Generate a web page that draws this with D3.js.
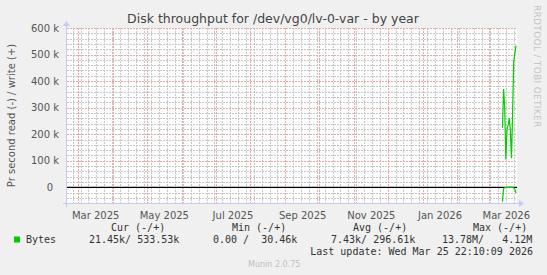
<!DOCTYPE html>
<html>
<head>
<meta charset="utf-8">
<script src="https://cdn.jsdelivr.net/npm/d3@7"></script>
<style>
  body { margin: 0; background: #f0f0f0; }
  text { font-family: "DejaVu Sans", sans-serif; }
  .mono { font-family: "DejaVu Sans Mono", monospace; font-size: 10px; fill: #333; white-space: pre; }
</style>
</head>
<body>
<div id="chart"></div>
<script>
// daily averages, bytes per second
var days = ["2026-03-13", "2026-03-14", "2026-03-15", "2026-03-16", "2026-03-17",
            "2026-03-18", "2026-03-19", "2026-03-20", "2026-03-21", "2026-03-22",
            "2026-03-23", "2026-03-24", "2026-03-25"];
var writeVals = [224000, 370000, 300000, 105000, 216000, 234000, 260000,
                 216000, 110000, 280000, 473000, 504000, 533530];
var readVals = [-54000, -5000, -800, -300, -300, -300, -300,
                -300, -300, -400, -2000, -7000, -21450];

var yTicks = [0, 100000, 200000, 300000, 400000, 500000, 600000];
var xLabelMonths = ["2025-03-01", "2025-05-01", "2025-07-01", "2025-09-01",
                    "2025-11-01", "2026-01-01", "2026-03-01"];

var legendHead = ["Cur (-/+)", "Min (-/+)", "Avg (-/+)", "Max (-/+)"];
var legendVals = ["21.45k/ 533.53k", "0.00 /  30.46k", "7.43k/ 296.61k", "13.78M/   4.12M"];
var lastUpdate = "Last update: Wed Mar 25 22:10:09 2026";

function init(){
    var W = 547, H = 275;
    var left = 67, right = 517, top = 28, bottom = 203;

    var parse = d3.timeParse("%Y-%m-%d");
    var end = new Date(2026, 2, 25, 22, 10, 9);
    var start = d3.timeDay.offset(end, -400);

    var xScale = d3.scaleTime()
                    .domain([start, end])
                    .range([left, right]);
    var yScale = d3.scaleLinear()
                    .domain([-59000, 600000])
                    .range([bottom, top]);

    var svg = d3.select("#chart")
                .append("svg")
                .attr("width", W)
                .attr("height", H);

    svg.append("rect").attr("width", W).attr("height", H).attr("fill", "#f0f0f0");
    svg.append("rect")
        .attr("x", left).attr("y", top)
        .attr("width", right - left).attr("height", bottom - top)
        .attr("fill", "#fcfcfc");

    var minorCol = "#c8c8c8", majorCol = "#e8a8a8";

    // minor grid
    var minorY = d3.range(-40000, 600001, 20000);
    svg.selectAll("line.hmin")
        .data(minorY)
        .enter().append("line")
        .attr("x1", left).attr("x2", right)
        .attr("y1", function(d){ return Math.round(yScale(d)) + 0.5; })
        .attr("y2", function(d){ return Math.round(yScale(d)) + 0.5; })
        .attr("stroke", minorCol).attr("stroke-dasharray", "2,1");

    svg.selectAll("line.vmin")
        .data(d3.timeMonday.range(start, end))
        .enter().append("line")
        .attr("y1", top).attr("y2", bottom)
        .attr("x1", function(d){ return Math.round(xScale(d)) + 0.5; })
        .attr("x2", function(d){ return Math.round(xScale(d)) + 0.5; })
        .attr("stroke", minorCol).attr("stroke-dasharray", "2,1");

    // major grid
    svg.selectAll("line.hmaj")
        .data(yTicks)
        .enter().append("line")
        .attr("x1", left).attr("x2", right)
        .attr("y1", function(d){ return Math.round(yScale(d)) + 0.5; })
        .attr("y2", function(d){ return Math.round(yScale(d)) + 0.5; })
        .attr("stroke", majorCol).attr("stroke-dasharray", "2,1");

    svg.selectAll("line.vmaj")
        .data(d3.timeMonth.range(start, end))
        .enter().append("line")
        .attr("y1", top).attr("y2", bottom)
        .attr("x1", function(d){ return Math.round(xScale(d)) + 0.5; })
        .attr("x2", function(d){ return Math.round(xScale(d)) + 0.5; })
        .attr("stroke", majorCol).attr("stroke-dasharray", "2,1");

    // axes
    var xAxis = d3.axisBottom(xScale)
                    .tickValues(xLabelMonths.map(function(s){ return d3.timeDay.offset(parse(s), 15); }))
                    .tickFormat(function(d){ return d3.timeFormat("%b %Y")(d3.timeDay.offset(d, -15)); })
                    .tickSize(0).tickPadding(9);
    var gx = svg.append("g").attr("transform", "translate(0," + bottom + ")").call(xAxis);
    gx.select(".domain").remove();
    gx.selectAll("text").attr("font-size", 10).attr("fill", "#555")
        .attr("font-family", "DejaVu Sans, sans-serif");

    var yAxis = d3.axisLeft(yScale)
                    .tickValues(yTicks)
                    .tickFormat(function(d){ return d === 0 ? "0" : (d / 1000) + " k"; })
                    .tickSize(0).tickPadding(8);
    var gy = svg.append("g").attr("transform", "translate(" + left + ",0)").call(yAxis);
    gy.select(".domain").remove();
    gy.selectAll("text").attr("font-size", 10).attr("fill", "#555")
        .attr("font-family", "DejaVu Sans, sans-serif")
        .attr("dx", function(d){ return d === 0 ? -6 : 0; });

    // axis lines with arrows
    var axisCol = "#c8c8f8";
    svg.append("line").attr("x1", left - 4).attr("x2", right + 2)
        .attr("y1", bottom + 0.5).attr("y2", bottom + 0.5).attr("stroke", axisCol);
    svg.append("path").attr("d", "M" + (right + 2) + "," + (bottom - 3) + "L" + (right + 7) + "," + (bottom + 0.5) + "L" + (right + 2) + "," + (bottom + 4) + "Z")
        .attr("fill", axisCol);
    svg.append("line").attr("x1", left - 0.5).attr("x2", left - 0.5)
        .attr("y1", bottom + 4).attr("y2", top - 2).attr("stroke", axisCol);
    svg.append("path").attr("d", "M" + (left - 4) + "," + (top - 2) + "L" + (left - 0.5) + "," + (top - 7) + "L" + (left + 3) + "," + (top - 2) + "Z")
        .attr("fill", axisCol);

    // zero line
    svg.append("line").attr("x1", left).attr("x2", right)
        .attr("y1", yScale(0)).attr("y2", yScale(0))
        .attr("stroke", "#000").attr("stroke-width", 1.3);

    // series
    var line = d3.line()
                .x(function(d){ return xScale(d.t); })
                .y(function(d){ return yScale(d.v); });
    var writeData = days.map(function(s, i){ return {t: parse(s), v: writeVals[i]}; });
    var readData = days.map(function(s, i){ return {t: parse(s), v: readVals[i]}; });
    [writeData, readData].forEach(function(ds){
        svg.append("path").datum(ds)
            .attr("d", line)
            .attr("fill", "none")
            .attr("stroke", "#00cc00")
            .attr("stroke-width", 1.2);
    });

    // texts
    svg.append("text").attr("x", 273).attr("y", 23)
        .attr("text-anchor", "middle").attr("font-size", 12.5).attr("fill", "#444")
        .text("Disk throughput for /dev/vg0/lv-0-var - by year");

    svg.append("text")
        .attr("transform", "translate(15," + ((top + bottom) / 2) + ") rotate(-90)")
        .attr("text-anchor", "middle").attr("font-size", 10).attr("fill", "#555")
        .text("Pr second read (-) / write (+)");

    svg.append("text")
        .attr("transform", "translate(534,5) rotate(90)")
        .attr("font-size", 9).attr("letter-spacing", 0.3).attr("fill", "#c4c4c4")
        .text("RRDTOOL / TOBI OETIKER");

    // legend
    var headX = [111, 232, 353, 473];
    var valX = [89, 213, 331, 442];
    svg.selectAll("text.lh")
        .data(legendHead)
        .enter().append("text")
        .attr("class", "mono")
        .attr("x", function(d, i){ return headX[i]; })
        .attr("y", 231)
        .text(function(d){ return d; });
    svg.selectAll("text.lv")
        .data(legendVals)
        .enter().append("text")
        .attr("class", "mono")
        .attr("x", function(d, i){ return valX[i]; })
        .attr("y", 243)
        .text(function(d){ return d; });
    svg.append("rect").attr("x", 14).attr("y", 236.5).attr("width", 6).attr("height", 6)
        .attr("fill", "#00cc00");
    svg.append("text").attr("class", "mono").attr("x", 26).attr("y", 243).text("Bytes");
    svg.append("text").attr("class", "mono").attr("x", 533).attr("y", 255)
        .attr("text-anchor", "end").text(lastUpdate);

    svg.append("text").attr("x", 248).attr("y", 267)
        .attr("font-size", 8).attr("fill", "#c0c0c0")
        .text("Munin 2.0.75");
}
window.onload = init;
</script>
</body>
</html>
